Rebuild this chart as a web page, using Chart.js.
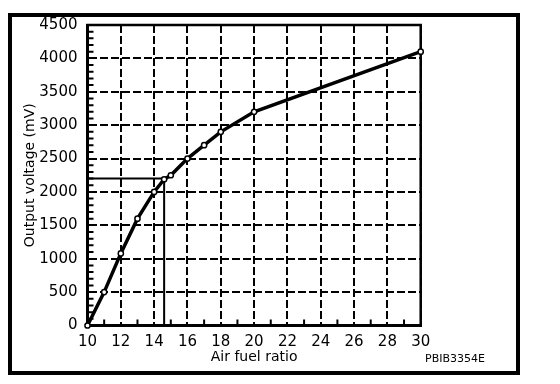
<!DOCTYPE html>
<html>
<head>
<meta charset="utf-8">
<script src="https://cdn.jsdelivr.net/npm/chart.js@4"></script>
<style>
  html, body { margin: 0; padding: 0; background: #fff; }
  #wrap { position: relative; width: 560px; height: 384px; }
</style>
</head>
<body>
<div id="wrap"><canvas id="c" width="560" height="384"></canvas></div>
<script>
// ---- data ----
const airFuelRatio = [10, 11, 12, 13, 14, 14.6, 15, 16, 17, 18, 20, 30];
const outputVoltage = [0, 500, 1080, 1600, 2000, 2190, 2250, 2500, 2700, 2900, 3200, 4100];
const refPointX = 14.6;        // marked operating point
const refPointY = 2200;
const xTickLabels = [10, 12, 14, 16, 18, 20, 22, 24, 26, 28, 30];
const yTickLabels = [0, 500, 1000, 1500, 2000, 2500, 3000, 3500, 4000, 4500];
const xMinorTicks = [11, 13, 15, 17, 19, 21, 23, 25, 27, 29];
const yMinorStep = 100;
const xTitle = 'Air fuel ratio';
const yTitle = 'Output voltage (mV)';
const figureCode = 'PBIB3354E';

const FONT = 'DejaVu Sans';

const mainData = airFuelRatio.map((x, i) => ({ x: x, y: outputVoltage[i] }));
const refData = [
  { x: xTickLabels[0], y: refPointY },
  { x: refPointX, y: refPointY },
  { x: refPointX, y: yTickLabels[0] }
];

const decor = {
  id: 'decor',
  beforeDraw(chart) {
    const ctx = chart.ctx;
    ctx.save();
    ctx.fillStyle = '#fff';
    ctx.fillRect(0, 0, chart.width, chart.height);
    ctx.restore();
  },
  beforeDatasetsDraw(chart) {
    const ctx = chart.ctx;
    const a = chart.chartArea;
    const xs = chart.scales.x, ys = chart.scales.y;
    ctx.save();
    ctx.strokeStyle = '#000';
    ctx.setLineDash([]);
    // plot frame
    ctx.lineWidth = 2.5;
    ctx.strokeRect(a.left, a.top, a.right - a.left, a.bottom - a.top);
    // minor ticks on x axis (inside)
    ctx.lineWidth = 2;
    ctx.beginPath();
    xMinorTicks.forEach(v => {
      const px = xs.getPixelForValue(v);
      ctx.moveTo(px, a.bottom);
      ctx.lineTo(px, a.bottom - 6);
    });
    // minor ticks on y axis (inside)
    for (let v = ys.min + yMinorStep; v < ys.max; v += yMinorStep) {
      if (v % 500 === 0) continue;
      const py = ys.getPixelForValue(v);
      ctx.moveTo(a.left, py);
      ctx.lineTo(a.left + 6, py);
    }
    ctx.stroke();
    ctx.restore();
  },
  afterDraw(chart) {
    const ctx = chart.ctx;
    ctx.save();
    // outer figure frame
    ctx.strokeStyle = '#000';
    ctx.lineWidth = 4;
    ctx.strokeRect(10, 15, 508, 358);
    // figure code
    ctx.fillStyle = '#000';
    ctx.font = '11px "' + FONT + '"';
    ctx.textAlign = 'center';
    ctx.textBaseline = 'middle';
    ctx.fillText(figureCode, 455, 359);
    ctx.restore();
  }
};

new Chart(document.getElementById('c'), {
  type: 'line',
  data: {
    datasets: [
      {
        data: refData,
        borderColor: '#000',
        borderWidth: 2,
        pointRadius: 0,
        tension: 0,
        fill: false,
        clip: false,
        order: 2
      },
      {
        data: mainData,
        borderColor: '#000',
        borderWidth: 3.5,
        pointRadius: 2.6,
        pointBorderWidth: 1.5,
        pointBackgroundColor: '#fff',
        pointBorderColor: '#000',
        tension: 0,
        fill: false,
        clip: false,
        order: 1
      }
    ]
  },
  plugins: [decor],
  options: {
    responsive: false,
    animation: false,
    events: [],
    layout: { padding: { left: 12, top: 25, right: 139.3, bottom: 0 } },
    plugins: {
      legend: { display: false },
      tooltip: { enabled: false },
      title: { display: false }
    },
    scales: {
      x: {
        type: 'linear',
        min: xTickLabels[0],
        max: xTickLabels[xTickLabels.length - 1],
        afterBuildTicks(scale) { scale.ticks = xTickLabels.map(v => ({ value: v })); },
        afterFit(scale) { scale.height = 384 - 325.5; },
        ticks: {
          color: '#000',
          font: { family: FONT, size: 15 },
          padding: 8,
          maxRotation: 0,
          autoSkip: false,
          callback: v => String(v)
        },
        grid: { color: '#000', lineWidth: 2, drawTicks: false },
        border: { display: true, color: '#000', width: 3, dash: [8, 3] },
        title: {
          display: true,
          text: xTitle,
          color: '#000',
          font: { family: FONT, size: 14 },
          padding: { top: 0, bottom: 18.6 }
        }
      },
      y: {
        type: 'linear',
        min: yTickLabels[0],
        max: yTickLabels[yTickLabels.length - 1],
        afterBuildTicks(scale) { scale.ticks = yTickLabels.map(v => ({ value: v })); },
        afterFit(scale) { scale.width = 87.5 - 12; },
        ticks: {
          color: '#000',
          font: { family: FONT, size: 15 },
          padding: 10,
          callback: v => String(v)
        },
        grid: { color: '#000', lineWidth: 2, drawTicks: false },
        border: { display: true, color: '#000', width: 3, dash: [8, 3] },
        title: {
          display: true,
          text: yTitle,
          color: '#000',
          font: { family: FONT, size: 14 },
          padding: { top: 9.6, bottom: 0 }
        }
      }
    }
  }
});
</script>
</body>
</html>
